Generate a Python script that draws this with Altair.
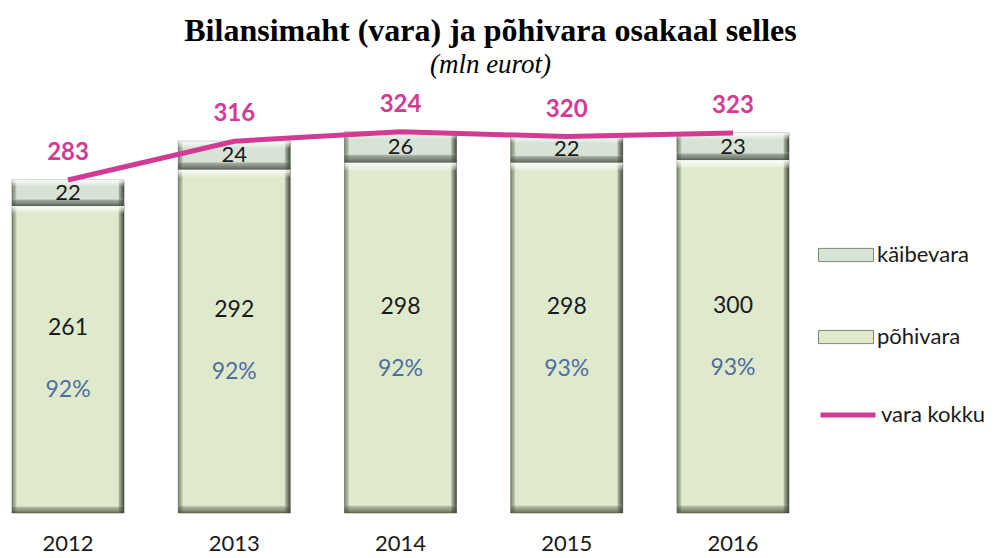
import altair as alt
import pandas as pd

years = ["2012", "2013", "2014", "2015", "2016"]
pohivara = [261, 292, 298, 298, 300]
kaibevara = [22, 24, 26, 22, 23]
total = [283, 316, 324, 320, 323]
pct = [92, 92, 92, 93, 93]

FONT = "Lato"
PINK = "#D23B93"

rows = []
for i, yr in enumerate(years):
    rows.append(dict(year=yr, series="põhivara", start=0, end=pohivara[i],
                     mid=pohivara[i] / 2, label=str(pohivara[i]), pct=f"{pct[i]}%"))
    rows.append(dict(year=yr, series="käibevara", start=pohivara[i], end=pohivara[i] + kaibevara[i],
                     mid=pohivara[i] + kaibevara[i] / 2, label=str(kaibevara[i]), pct=""))
bars = pd.DataFrame(rows)
tot = pd.DataFrame(dict(year=years, total=total, series=["vara kokku"] * len(years)))

X = alt.X("year:N", sort=years,
          scale=alt.Scale(paddingInner=0.326, paddingOuter=0.024),
          axis=alt.Axis(title=None, labelAngle=0, domain=False, ticks=False,
                        labelFont=FONT, labelFontSize=22, labelColor="#1a1a1a",
                        labelPadding=20))
YS = alt.Scale(domain=[0, 340], nice=False, zero=True)

base = alt.Chart(bars)

fill_legend = alt.Legend(title=None, orient="none", legendX=810, legendY=114,
                         symbolType="M-1,-0.24L1,-0.24L1,0.24L-1,0.24Z", symbolSize=3025,
                         symbolStrokeColor="#7d8a72", symbolStrokeWidth=1, symbolOpacity=1,
                         labelFont=FONT, labelFontSize=22, labelColor="#1a1a1a",
                         rowPadding=43, labelOffset=3, labelLimit=300)

bar_base = base.mark_bar(stroke="#8a9a80", strokeWidth=0.8).encode(
    x=X,
    y=alt.Y("start:Q", scale=YS, axis=None),
    y2="end:Q",
    fill=alt.Fill("series:N", scale=alt.Scale(domain=["käibevara", "põhivara"],
                                              range=["#D6E3D5", "#DFEACD"]),
                  legend=fill_legend),
)

def stop(o, c):
    return alt.GradientStop(offset=o, color=c)

hgrad = alt.LinearGradient(gradient="linear", x1=0, y1=0, x2=1, y2=0, stops=[
    stop(0, "rgba(80,90,70,0.75)"),
    stop(0.035, "rgba(120,130,105,0.35)"),
    stop(0.05, "rgba(255,255,255,0)"),
    stop(0.94, "rgba(255,255,255,0)"),
    stop(0.96, "rgba(70,75,60,0.4)"),
    stop(1, "rgba(40,45,35,0.85)"),
])
vgrad_p = alt.LinearGradient(gradient="linear", x1=0, y1=0, x2=0, y2=1, stops=[
    stop(0, "rgba(255,255,255,0.9)"),
    stop(0.018, "rgba(255,255,255,0.3)"),
    stop(0.024, "rgba(255,255,255,0)"),
    stop(0.975, "rgba(255,255,255,0)"),
    stop(0.982, "rgba(80,90,70,0.35)"),
    stop(1, "rgba(60,70,50,0.75)"),
])
vgrad_k = alt.LinearGradient(gradient="linear", x1=0, y1=0, x2=0, y2=1, stops=[
    stop(0, "rgba(255,255,255,0.9)"),
    stop(0.2, "rgba(255,255,255,0.2)"),
    stop(0.26, "rgba(255,255,255,0)"),
    stop(0.7, "rgba(255,255,255,0)"),
    stop(0.78, "rgba(90,100,85,0.45)"),
    stop(1, "rgba(60,70,60,0.8)"),
])

enc_xy = dict(x=X, y=alt.Y("start:Q", scale=YS, axis=None), y2="end:Q")
over_h = base.mark_bar(fill=hgrad).encode(**enc_xy)
over_vp = base.transform_filter(alt.datum.series == "põhivara").mark_bar(fill=vgrad_p).encode(**enc_xy)
over_vk = base.transform_filter(alt.datum.series == "käibevara").mark_bar(fill=vgrad_k).encode(**enc_xy)

txt_k = base.transform_filter(alt.datum.series == "käibevara").mark_text(
    font=FONT, fontSize=22, color="#1a1a1a", baseline="middle").encode(
    x=X, y=alt.Y("mid:Q", scale=YS, axis=None), text="label:N")
txt_p = base.transform_filter(alt.datum.series == "põhivara").mark_text(
    font=FONT, fontSize=23, color="#1a1a1a", baseline="middle", dy=-31).encode(
    x=X, y=alt.Y("mid:Q", scale=YS, axis=None), text="label:N")
txt_pct = base.transform_filter(alt.datum.series == "põhivara").mark_text(
    font=FONT, fontSize=23, color="#4f6e9e", baseline="middle", dy=31).encode(
    x=X, y=alt.Y("mid:Q", scale=YS, axis=None), text="pct:N")

line = alt.Chart(tot).mark_line(strokeWidth=5).encode(
    x=X,
    y=alt.Y("total:Q", scale=YS, axis=None),
    stroke=alt.Stroke("series:N", scale=alt.Scale(domain=["vara kokku"], range=[PINK]),
                      legend=alt.Legend(title=None, orient="none", legendX=810, legendY=272,
                                        symbolType="M-1,0L1,0", symbolSize=3025,
                                        symbolStrokeWidth=5, labelFont=FONT, labelFontSize=22,
                                        labelColor="#1a1a1a", labelOffset=3, labelLimit=300)),
)
txt_tot = alt.Chart(tot).mark_text(font=FONT, fontSize=24, fontWeight="bold", color=PINK,
                                   baseline="middle", dy=-27).encode(
    x=X, y=alt.Y("total:Q", scale=YS, axis=None), text="total:Q")

chart = alt.layer(bar_base, over_h, over_vp, over_vk, line, txt_k, txt_p, txt_pct, txt_tot).properties(
    width=785, height=400,
    background="white",
    autosize=alt.AutoSizeParams(type="none"),
    padding={"left": 0, "top": 105, "right": 194, "bottom": 45},
    title=alt.TitleParams(text="Bilansimaht (vara) ja põhivara osakaal selles",
                          subtitle="(mln eurot)", font="Liberation Serif", fontSize=32,
                          fontWeight="bold", color="#000", subtitleFont="Liberation Serif",
                          subtitleFontSize=27, subtitleFontStyle="italic", subtitleColor="#000",
                          anchor="middle", dx=90, offset=14, subtitlePadding=4),
).configure_view(strokeWidth=0, stroke="transparent")

chart.save("out.html", embed_options={"renderer": "svg", "actions": False})
